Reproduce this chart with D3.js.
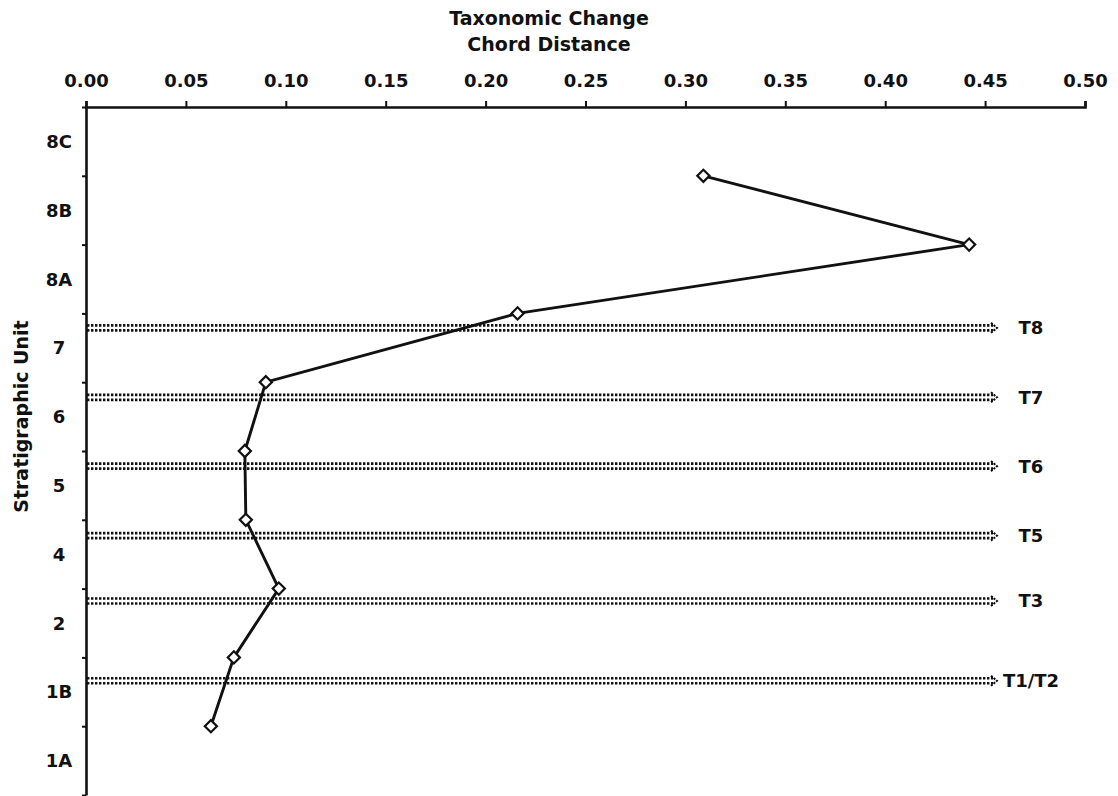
<!DOCTYPE html>
<html>
<head>
<meta charset="utf-8">
<script src="https://cdn.jsdelivr.net/npm/d3@7"></script>
<style>
  body { margin: 0; background: #fff; }
  text { font-family: "DejaVu Sans", "Liberation Sans", Arial, sans-serif; font-weight: bold; fill: #111; }
</style>
</head>
<body>
<svg id="chart" width="1118" height="796"></svg>
<script>
// Stratigraphic units, top to bottom
const units = ["8C", "8B", "8A", "7", "6", "5", "4", "2", "1B", "1A"];
// Chord distance measured at each boundary between successive units (top to bottom)
const boundaries = ["8C/8B", "8B/8A", "8A/7", "7/6", "6/5", "5/4", "4/2", "2/1B", "1B/1A"];
const chordDistance = [0.309, 0.442, 0.216, 0.090, 0.0795, 0.080, 0.0965, 0.074, 0.0625];
// Transition markers (position in unit-index coordinates, 0 = top of 8C)
const transitions = ["T8", "T7", "T6", "T5", "T3", "T1/T2"];
const transitionPos = [3.21, 4.22, 5.22, 6.23, 7.18, 8.34];
// Axis ticks
const xTicks = [0, 0.05, 0.10, 0.15, 0.20, 0.25, 0.30, 0.35, 0.40, 0.45, 0.50];

(function () {
const svg = d3.select("#chart");
const mLeft = 86, mRight = 1085, mTop = 107, mBottom = 795;
const FONT = "DejaVu Sans, Liberation Sans, Arial, sans-serif";

const x = d3.scaleLinear().domain([0, 0.5]).range([mLeft, mRight]);
const y = d3.scaleLinear().domain([0, units.length]).range([mTop, mBottom]);

// Top x axis
const xAxis = d3.axisTop(x).tickValues(xTicks).tickFormat(d3.format(".2f")).tickSize(6).tickSizeOuter(6).tickPadding(14);
const gx = svg.append("g").attr("transform", `translate(0,${mTop})`).call(xAxis);
gx.attr("font-family", FONT).attr("font-size", 18);
gx.select(".domain").attr("stroke", "#111").attr("stroke-width", 2.6);
gx.selectAll(".tick line").attr("stroke", "#111").attr("stroke-width", 2);
gx.selectAll(".tick text").style("font-size", "18px").style("font-weight", "bold").attr("fill", "#111");

// Left y axis (ticks at unit boundaries)
const yAxis = d3.axisLeft(y).tickValues(d3.range(0, units.length + 1)).tickFormat("").tickSize(4).tickSizeOuter(0);
const gy = svg.append("g").attr("transform", `translate(${mLeft},0)`).call(yAxis);
gy.select(".domain").attr("stroke", "#111").attr("stroke-width", 2.6);
gy.selectAll(".tick line").attr("stroke", "#111").attr("stroke-width", 2);

// Unit labels centered in each band
svg.append("g").selectAll("text").data(units).join("text")
  .attr("x", 59).attr("y", (d, i) => y(i + 0.5))
  .attr("text-anchor", "middle").attr("dominant-baseline", "central")
  .style("font-size", "18px").text(d => d);

// Axis titles
svg.append("text").attr("x", 549).attr("y", 25).attr("text-anchor", "middle").style("font-size", "19px").text("Taxonomic Change");
svg.append("text").attr("x", 549).attr("y", 51).attr("text-anchor", "middle").style("font-size", "19px").text("Chord Distance");
svg.append("text").attr("transform", `translate(28,${y(4.5)}) rotate(-90)`).attr("text-anchor", "middle")
  .style("font-size", "19px").text("Stratigraphic Unit");

// Transition dotted double lines with arrowheads
const arrowEnd = 997;
const tg = svg.append("g").selectAll("g").data(transitions).join("g")
  .attr("transform", (d, i) => `translate(0,${y(transitionPos[i])})`);
[-2.5, 2.5].forEach(off => {
  tg.append("line").attr("x1", mLeft + 1).attr("x2", arrowEnd - 4).attr("y1", off).attr("y2", off)
    .attr("stroke", "#111").attr("stroke-width", 2.6).attr("stroke-dasharray", "2.4,1.6");
});
tg.append("path").attr("d", `M${arrowEnd - 6},-5 L${arrowEnd},0 L${arrowEnd - 6},5`)
  .attr("fill", "none").attr("stroke", "#111").attr("stroke-width", 2).attr("stroke-dasharray", "2.2,1.2");
tg.append("text").attr("x", 1031).attr("y", 0).attr("text-anchor", "middle").attr("dominant-baseline", "central")
  .style("font-size", "18px").text(d => d);

// Data line
const pts = chordDistance.map((v, i) => ({ v, pos: i + 1, name: boundaries[i] }));
svg.append("path").datum(pts)
  .attr("d", d3.line().x(d => x(d.v)).y(d => y(d.pos)))
  .attr("fill", "none").attr("stroke", "#111").attr("stroke-width", 2.9);

// Diamond markers
const diamond = d3.symbol().type(d3.symbolSquare).size(74);
svg.append("g").selectAll("path").data(pts).join("path")
  .attr("d", diamond)
  .attr("transform", d => `translate(${x(d.v)},${y(d.pos)}) rotate(45)`)
  .attr("fill", "#fff").attr("stroke", "#111").attr("stroke-width", 2.2);
})();
</script>
</body>
</html>
